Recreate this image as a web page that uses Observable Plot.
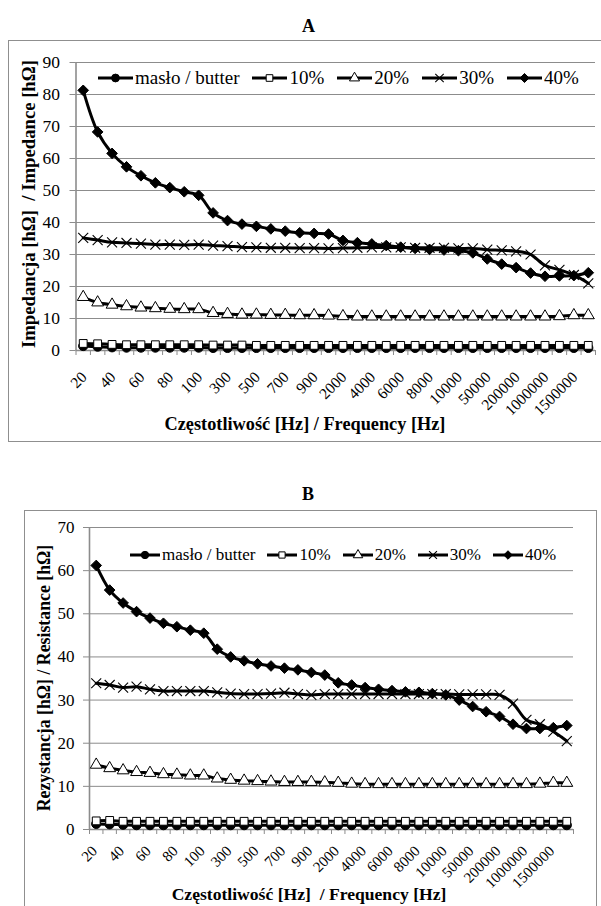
<!DOCTYPE html>
<html><head><meta charset="utf-8">
<script src="https://cdn.jsdelivr.net/npm/d3@7"></script>
<script src="https://cdn.jsdelivr.net/npm/@observablehq/plot@0.6"></script>
<style>
body{margin:0;background:#fff;font-family:'Liberation Serif';color:#000;}
#wrap{position:relative;width:601px;height:906px;overflow:hidden;font-family:'Liberation Serif';}
.box{position:absolute;border:1px solid #8f8f8f;box-sizing:border-box;}
.title{position:absolute;font-weight:bold;font-size:18px;line-height:18px;}
.xt{position:absolute;font-weight:bold;white-space:nowrap;transform:translateX(-50%);}
.yt{position:absolute;font-weight:bold;white-space:nowrap;transform:translate(-50%,-50%) rotate(-90deg);}
.leg{position:absolute;display:flex;align-items:center;white-space:nowrap;height:22px;line-height:22px;}
.leg svg{display:block;}
.plot{position:absolute;left:0;}
</style></head><body><div id="wrap"></div>
<script>
// ---- data ----
const freqLabels = ["20","30","40","50","60","70","80","90","100",
  "200","300","400","500","600","700","800","900","1000",
  "2000","3000","4000","5000","6000","7000","8000","9000","10000",
  "20000","50000","100000","200000","500000","1000000","1200000","1500000","2000000"];
const seriesNames = ["masło / butter","10%","20%","30%","40%"];

// A: Impedance [hΩ]
const impButter = [1.4,1.2,1.0,0.9,0.9,0.9,0.9,0.9,0.9,
  0.8,0.8,0.8,0.8,0.8,0.8,0.8,0.8,0.8,
  0.8,0.8,0.8,0.8,0.8,0.8,0.8,0.8,0.8,
  0.8,0.8,0.8,0.8,0.8,0.8,0.8,0.8,0.8];
const imp10 = [2.2,2.1,1.9,1.8,1.8,1.8,1.8,1.8,1.8,
  1.7,1.7,1.7,1.6,1.6,1.6,1.6,1.6,1.6,
  1.6,1.6,1.6,1.6,1.6,1.6,1.6,1.6,1.6,
  1.6,1.6,1.6,1.6,1.6,1.6,1.6,1.6,1.6];
const imp20 = [16.7,15.0,14.3,13.8,13.4,13.2,13.0,12.9,12.9,
  11.7,11.4,11.2,11.2,11.1,11.1,11.0,11.0,10.9,
  10.7,10.6,10.6,10.6,10.6,10.6,10.6,10.6,10.6,
  10.6,10.6,10.6,10.6,10.6,10.6,10.7,11.0,11.0];
const imp30 = [35.2,34.5,33.8,33.6,33.4,33.1,33.1,33.0,33.1,
  32.8,32.6,32.3,32.2,32.1,32.1,32.0,32.0,31.9,
  32.0,32.1,32.2,32.2,32.2,32.1,32.1,32.1,31.9,
  31.9,31.5,31.3,31.0,30.0,26.6,25.2,23.6,21.0];
const imp40 = [81.3,68.3,61.6,57.4,54.6,52.4,50.9,49.6,48.5,
  43.0,40.6,39.5,38.8,38.0,37.3,36.8,36.6,36.4,
  34.4,33.7,33.3,32.8,32.3,31.9,31.6,31.4,31.2,
  30.5,28.6,27.0,25.9,24.2,23.2,23.3,23.4,24.3];

// B: Resistance [hΩ]
const resButter = [1.3,1.2,1.1,1.0,1.0,1.0,1.0,1.0,1.0,
  1.0,1.0,1.0,1.0,1.0,1.0,1.0,1.0,1.0,
  1.0,1.0,1.0,1.0,1.0,1.0,1.0,1.0,1.0,
  1.0,1.0,1.0,1.0,1.0,1.0,1.0,1.0,1.0];
const res10 = [2.0,2.1,1.9,1.9,1.9,1.9,1.9,1.9,1.9,
  1.9,1.9,1.9,1.9,1.9,1.9,1.9,1.9,1.9,
  1.9,1.9,1.9,1.9,1.9,1.9,1.9,1.9,1.9,
  1.9,1.9,1.9,1.9,1.9,1.9,1.9,1.9,1.9];
const res20 = [15.0,14.2,13.7,13.3,13.1,12.8,12.7,12.5,12.5,
  11.8,11.5,11.3,11.2,11.1,11.0,11.0,11.0,10.9,
  10.8,10.6,10.5,10.5,10.5,10.5,10.5,10.5,10.5,
  10.5,10.5,10.5,10.5,10.5,10.5,10.6,10.8,10.8];
const res30 = [33.9,33.5,32.9,33.1,32.5,32.1,32.1,32.1,32.1,
  31.8,31.5,31.4,31.4,31.5,31.7,31.4,31.2,31.4,
  31.4,31.4,31.4,31.4,31.4,31.4,31.4,31.4,31.4,
  31.3,31.3,31.3,31.2,29.2,25.4,24.4,22.7,20.5];
const res40 = [61.2,55.5,52.5,50.5,49.0,47.8,47.0,46.2,45.5,
  41.8,40.0,39.1,38.4,37.9,37.4,37.0,36.4,35.8,
  34.0,33.5,32.9,32.5,32.2,31.9,31.8,31.5,31.2,
  30.0,28.5,27.3,26.2,24.4,23.4,23.4,23.6,24.1];

const yTicksA = [0,10,20,30,40,50,60,70,80,90];
const yTicksB = [0,10,20,30,40,50,60,70];

// ---- styles ----
const symbols = [
  {sym:"circle",   d3s:d3.symbolCircle,   r:4.6, fill:"black", stroke:"black", sw:1},
  {sym:"square",   d3s:d3.symbolSquare,   r:4.4, fill:"white", stroke:"black", sw:1},
  {sym:"triangle", d3s:d3.symbolTriangle, r:4.4, fill:"white", stroke:"black", sw:1},
  {sym:"times",    d3s:d3.symbolTimes,    r:4.6, fill:"none",  stroke:"black", sw:1.1},
  {sym:"diamond2", d3s:d3.symbolDiamond2, r:4.8, fill:"black", stroke:"black", sw:1}
];
const FONT = "Liberation Serif";
const GRID = "#8c8c8c";
const wrap = document.getElementById("wrap");

function el(cls, html, css) {
  const d = document.createElement("div");
  d.className = cls; d.innerHTML = html;
  Object.assign(d.style, css); wrap.appendChild(d); return d;
}

function panel(o) {
  const n = freqLabels.length;
  const idx = freqLabels.map((f, i) => i);
  const bounds = d3.range(-0.5, n, 1);
  const labelIdx = idx.filter(i => i % 2 === 0);
  const marks = [
    Plot.ruleY(o.yTicks.filter(v => v > 0), {y: d => d, stroke: GRID, strokeWidth: 1}),
    Plot.axisY({ticks: o.yTicks, tickSize: 6, tickPadding: o.tickPad, stroke: GRID, fill: "black",
      fontSize: o.yFont, fontFamily: FONT, label: null}),
    Plot.axisX({ticks: bounds, tickSize: 5, tickFormat: () => "", stroke: GRID, label: null}),
    Plot.ruleX([-0.5], {stroke: GRID, strokeWidth: 1.6}),
    Plot.ruleY([0], {stroke: GRID, strokeWidth: 1.6}),
    Plot.text(labelIdx, {x: d => d, text: d => freqLabels[d], frameAnchor: "bottom",
      rotate: -45, textAnchor: "end", lineAnchor: "middle", dy: o.lblDy, dx: o.lblDx,
      fontSize: o.xFont, fontFamily: FONT, fill: "black"})
  ];
  o.series.forEach((vals, s) => {
    const rows = vals.map((v, i) => ({i, v}));
    const st = symbols[s];
    marks.push(Plot.line(rows, {x: "i", y: "v", stroke: "black", strokeWidth: 3, curve: "catmull-rom"}));
    marks.push(Plot.dot(rows, {x: "i", y: "v", symbol: st.sym, r: st.r, fill: st.fill,
      stroke: st.stroke, strokeWidth: st.sw}));
  });
  const svg = Plot.plot({
    width: 601, height: o.height,
    marginLeft: o.ml, marginRight: o.mr, marginTop: o.mt, marginBottom: o.mb,
    x: {type: "linear", domain: [-0.5, n - 0.5], axis: null},
    y: {domain: [0, o.ymax], axis: null},
    style: {fontFamily: FONT, background: "transparent", color: "black", overflow: "visible"},
    marks
  });
  svg.classList.add("plot");
  svg.style.top = o.top + "px";
  wrap.appendChild(svg);
}

function legend(o) {
  const d = document.createElement("div");
  d.className = "leg";
  Object.assign(d.style, {left: o.x + "px", top: (o.y - 11) + "px", fontSize: o.font + "px"});
  seriesNames.forEach((name, s) => {
    const st = symbols[s];
    const svg = d3.create("svg").attr("width", o.w).attr("height", 14);
    svg.append("line").attr("x1", 0).attr("x2", o.w).attr("y1", 7).attr("y2", 7)
      .attr("stroke", "black").attr("stroke-width", 3);
    const rr = st.r * o.k;
    svg.append("path").attr("transform", `translate(${o.w / 2},7)`)
      .attr("d", d3.symbol(st.d3s, Math.PI * rr * rr)())
      .attr("fill", st.fill).attr("stroke", st.stroke).attr("stroke-width", st.sw);
    d.appendChild(svg.node());
    const t = document.createElement("span");
    t.textContent = name;
    t.style.marginLeft = "2px";
    if (s < seriesNames.length - 1) t.style.marginRight = o.gap + "px";
    d.appendChild(t);
  });
  wrap.appendChild(d);
}

// ---- Panel A ----
el("box", "", {left: "8px", top: "40px", width: "610px", height: "402px"});
el("title", "A", {left: "302px", top: "17px"});
panel({top: 40, height: 401, ml: 75.5, mr: 6, mt: 22, mb: 91, ymax: 90, yTicks: yTicksA,
  series: [impButter, imp10, imp20, imp30, imp40], lblDy: 24, lblDx: 1,
  xFont: 15.5, yFont: 17.5, tickPad: 10});
legend({x: 98, y: 78, w: 35, font: 19, gap: 13, k: 0.85});
el("xt", "Częstotliwość [Hz] / Frequency [Hz]", {left: "305px", top: "414px", fontSize: "18.3px"});
el("yt", "Impedancja [hΩ]&nbsp; / Impedance [hΩ]", {left: "29px", top: "204px", fontSize: "18.7px"});

// ---- Panel B ----
el("box", "", {left: "24px", top: "510px", width: "573px", height: "420px"});
el("title", "B", {left: "302px", top: "485px"});
panel({top: 510, height: 396, ml: 89, mr: 28, mt: 17, mb: 77, ymax: 70, yTicks: yTicksB,
  series: [resButter, res10, res20, res30, res40], lblDy: 19, lblDx: -1.5,
  xFont: 15, yFont: 17, tickPad: 9});
legend({x: 130, y: 555, w: 30, font: 17, gap: 12, k: 0.8});
el("xt", "Częstotliwość [Hz]&nbsp; / Frequency [Hz]", {left: "309px", top: "884px", fontSize: "17.6px"});
el("yt", "Rezystancja [hΩ] / Resistance [hΩ]", {left: "44px", top: "678px", fontSize: "17.8px"});
</script></body></html>
